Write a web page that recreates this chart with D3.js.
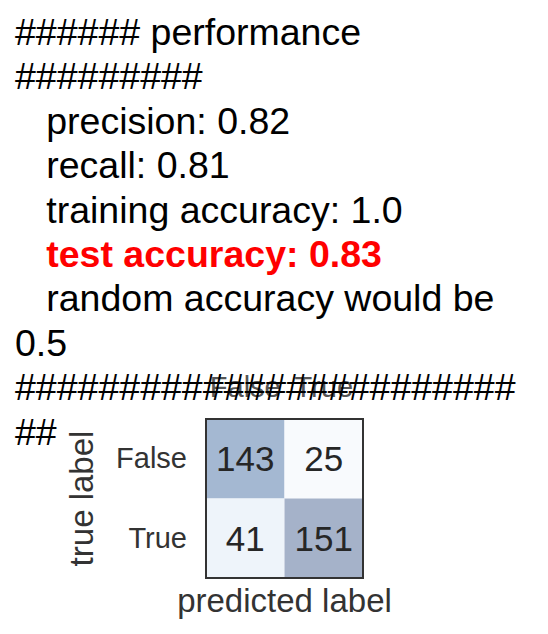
<!DOCTYPE html>
<html>
<head>
<meta charset="utf-8">
<script src="https://cdn.jsdelivr.net/npm/d3@7"></script>
<style>
  html, body { margin: 0; padding: 0; background: #fff; }
  svg { display: block; }
  text { font-family: "Liberation Sans", Arial, sans-serif; white-space: pre; }
</style>
</head>
<body>
<script>
// ---- data ----
const textLines = [
  "###### performance",
  "#########",
  "   precision: 0.82",
  "   recall: 0.81",
  "   training accuracy: 1.0",
  "   test accuracy: 0.83",
  "   random accuracy would be",
  "0.5",
  "########################",
  "##"
];
const highlightLine = 5;
const predictedLabels = ["False", "True"];
const trueLabels = ["False", "True"];
// confusion matrix rows = true label, cols = predicted label
const matrix = [
  [143, 25],
  [41, 151]
];
const xTitle = "predicted label";
const yTitle = "true label";

// ---- drawing ----
const W = 548, H = 634;
const svg = d3.select("body").append("svg").attr("width", W).attr("height", H);

const x = d3.scaleBand().domain(predictedLabels).range([206, 363]);
const y = d3.scaleBand().domain(trueLabels).range([419, 578]);
const color = d3.scaleLinear()
  .domain([25, 41, 143, 151])
  .range(["#f8fafd", "#eef4fa", "#a4b8d2", "#a5b2c9"]);

const cells = [];
matrix.forEach((row, i) => row.forEach((v, j) => cells.push({t: trueLabels[i], p: predictedLabels[j], v})));

const g = svg.append("g");
g.selectAll("rect.cell").data(cells).join("rect")
  .attr("class", "cell")
  .attr("x", d => x(d.p)).attr("y", d => y(d.t))
  .attr("width", x.bandwidth()).attr("height", y.bandwidth())
  .attr("fill", d => color(d.v));

g.selectAll("text.val").data(cells).join("text")
  .attr("class", "val")
  .attr("x", d => x(d.p) + x.bandwidth() / 2)
  .attr("y", d => y(d.t) + y.bandwidth() / 2)
  .attr("dy", "0.35em")
  .attr("text-anchor", "middle")
  .attr("font-size", 35)
  .attr("fill", "#262626")
  .text(d => d.v);

g.append("rect")
  .attr("x", x.range()[0]).attr("y", y.range()[0])
  .attr("width", x.range()[1] - x.range()[0])
  .attr("height", y.range()[1] - y.range()[0])
  .attr("fill", "none").attr("stroke", "#333").attr("stroke-width", 2);

const topAxis = svg.append("g").attr("transform", `translate(0,${y.range()[0]})`)
  .call(d3.axisTop(x).tickSize(0).tickPadding(22));
topAxis.select(".domain").remove();
topAxis.selectAll("text").attr("font-size", 29).attr("fill", "#555")
  .attr("font-family", "Liberation Sans, Arial, sans-serif");

const leftAxis = svg.append("g").attr("transform", `translate(${x.range()[0]},0)`)
  .call(d3.axisLeft(y).tickSize(0).tickPadding(19));
leftAxis.select(".domain").remove();
leftAxis.selectAll("text").attr("font-size", 29).attr("fill", "#333")
  .attr("font-family", "Liberation Sans, Arial, sans-serif");

svg.append("text")
  .attr("x", (x.range()[0] + x.range()[1]) / 2)
  .attr("y", 612)
  .attr("text-anchor", "middle")
  .attr("font-size", 33).attr("fill", "#333")
  .text(xTitle);

svg.append("text")
  .attr("transform", `translate(93,${(y.range()[0] + y.range()[1]) / 2}) rotate(-90)`)
  .attr("text-anchor", "middle")
  .attr("font-size", 33).attr("fill", "#333")
  .text(yTitle);

// text report lines on top
const lineY = d3.scaleLinear().domain([0, 1]).range([45, 89.4]);
svg.append("g").selectAll("text.line").data(textLines).join("text")
  .attr("class", "line")
  .attr("x", 15)
  .attr("y", (d, i) => lineY(i))
  .attr("font-size", 37.5)
  .attr("font-weight", (d, i) => i === highlightLine ? "bold" : "normal")
  .attr("fill", (d, i) => i === highlightLine ? "#ff0000" : "#000")
  .attr("xml:space", "preserve")
  .text(d => d);
</script>
</body>
</html>
